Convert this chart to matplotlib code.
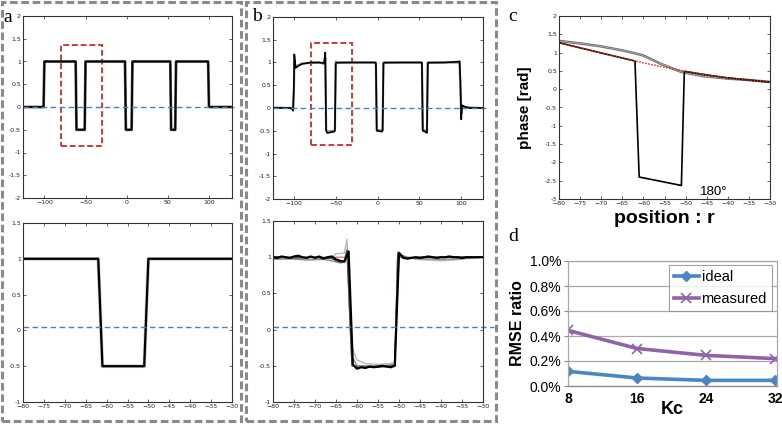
import matplotlib.pyplot as plt
from matplotlib.patches import Rectangle

W, H = 782, 424

# ideal pulse profile (panel a / red reference)
prof_x = [-128, -101, -100, -62, -61, -51, -50, -2, -1, 6, 7, 53, 54, 59, 60, 99, 100, 128]
prof_y = [0, 0, 1, 1, -0.5, -0.5, 1, 1, -0.5, -0.5, 1, 1, -0.5, -0.5, 1, 1, 0, 0]

# panel b top, measured traces
bt_x = [-126, -104, -102, -101, -100, -99.5, -98, -95, -90, -80, -70, -64, -62.5, -61.5, -60, -52, -51, -50,
        -49, -30, -3, -2, -1, 5, 6, 7, 8, 30, 52, 53, 54, 58, 59, 60, 61, 80, 97, 98, 99, 100, 101, 104, 110, 126]
bt_y = [0, 0, -0.03, -0.06, 0.5, 1.18, 0.88, 0.92, 0.97, 1.0, 1.0, 0.99, 1.22, -0.5, -0.55, -0.52, -0.5, 0.97,
        1.0, 1.0, 1.0, 0.98, -0.5, -0.52, -0.5, 0.98, 1.0, 1.0, 1.0, 0.99, -0.5, -0.53, -0.55, 0.98, 1.0, 1.0, 1.02, 1.03, 0.6, -0.25, 0.06, 0.03, 0.0, 0]
bt2_y = [0.01, 0.0, 0.0, -0.03, 0.4, 1.05, 0.9, 0.94, 0.98, 0.99, 1.0, 0.97, 1.1, -0.48, -0.52, -0.5, -0.48, 1.02,
         0.99, 1.0, 1.0, 1.0, -0.48, -0.5, -0.48, 1.0, 0.99, 1.0, 1.0, 1.0, -0.48, -0.5, -0.52, 1.0, 0.99, 1.0, 1.0, 1.0, 0.4, -0.12, 0.04, 0.02, 0.01, 0]

# panel b bottom, zoomed measured traces
bb_x = list(range(-80, -29))
bb_black = [1.00, 0.99, 1.01, 1.00, 0.99, 1.01, 1.02, 1.00, 0.99, 1.01, 0.99, 1.01, 0.98, 1.00, 1.01, 0.97, 0.95,
            0.94, 1.08, -0.48, -0.54, -0.52, -0.53, -0.51, -0.52, -0.51, -0.50, -0.51, -0.52, -0.50, 1.06, 0.99,
            0.98, 0.99, 1.00, 0.99, 1.00, 1.01, 1.00, 0.99, 1.00, 1.00, 1.01, 1.00, 1.00, 0.99, 1.00, 1.00, 1.00, 1.00, 1.00]
bb_g1_x = [-80, -77, -74, -71, -68, -66, -65, -64, -63, -62.4, -61.5, -61, -60, -58, -55, -52, -51, -50.3, -49, -46, -43, -40, -37, -34, -30]
bb_g1_y = [0.98, 0.97, 0.98, 0.97, 0.98, 0.99, 1.05, 1.05, 1.06, 1.25, -0.1, -0.27, -0.42, -0.47, -0.48, -0.47, -0.45, 1.08, 1.02, 0.97, 0.96, 0.95, 0.96, 0.98, 1.0]
bb_g2_x = [-80, -76, -72, -68, -66, -64, -63, -62.3, -61.3, -60, -57, -54, -51, -50.3, -49, -45, -40, -35, -30]
bb_g2_y = [0.97, 0.98, 0.96, 0.97, 0.95, 0.92, 0.93, 1.02, -0.35, -0.50, -0.51, -0.50, -0.48, 1.03, 0.99, 0.98, 0.97, 0.98, 1.0]
bb_g3_x = [-80, -75, -70, -66, -64, -63, -62.4, -61.2, -60, -55, -51, -50.3, -48, -44, -38, -30]
bb_g3_y = [1.01, 0.99, 1.0, 0.98, 0.93, 0.95, 1.10, -0.50, -0.52, -0.52, -0.50, 1.05, 0.99, 1.0, 1.0, 1.0]

# panel c, phase
c_x = [-80, -75, -70, -65, -62, -60, -55, -50, -45, -40, -35, -30]
c_ideal = [1.27, 1.13, 0.99, 0.85, 0.77, 0.72, 0.60, 0.49, 0.39, 0.31, 0.25, 0.19]
c_gray_x = [-80, -75, -70, -65, -62, -60, -56, -51, -46, -40, -35, -30]
c_gray = [1.32, 1.25, 1.17, 1.06, 0.98, 0.92, 0.70, 0.47, 0.36, 0.29, 0.25, 0.20]
c_black_x = [-80, -70, -62, -61, -51, -50.3, -45, -40, -35, -30]
c_black = [1.27, 0.99, 0.77, -2.40, -2.63, 0.49, 0.39, 0.31, 0.25, 0.19]

# panel d, RMSE ratio (%)
kc = [8, 16, 24, 32]
rmse_ideal = [0.117, 0.064, 0.045, 0.045]
rmse_measured = [0.445, 0.30, 0.245, 0.219]

blue_dash = '#4a80c0'
red_box = '#c83c3c'


def ax_px(x0, y0, x1, y1):
    return fig.add_axes([x0 / W, 1 - y1 / H, (x1 - x0) / W, (y1 - y0) / H])


def matlab_style(ax):
    ax.tick_params(direction='in', top=True, right=True, length=2.5, width=0.5, labelsize=4.5, pad=1.5,
                   colors='#222222')
    for s in ax.spines.values():
        s.set_linewidth(0.8)
        s.set_color('#333333')


def short(v):
    return ('%g' % v)


fig = plt.figure(figsize=(W / 100, H / 100), dpi=100)

# ---- panel a ----
ax = ax_px(23, 16, 232, 198)
ax.plot(prof_x, prof_y, color='#555555', lw=2.0)
ax.plot(prof_x, prof_y, color='black', lw=1.2)
ax.plot([-126, 130], [0, 0], ls=(0, (4, 2.5)), color=blue_dash, lw=1.0, clip_on=False)
ax.add_patch(Rectangle((-80, -0.85), 50, 2.22, fill=False, ec=red_box, lw=1.4, ls=(0, (3, 1.5)), clip_on=False))
ax.set_xlim(-126, 128)
ax.set_ylim(-2, 2)
ax.set_xticks([-100, -50, 0, 50, 100])
ax.set_yticks([-2, -1.5, -1, -0.5, 0, 0.5, 1, 1.5, 2])
ax.set_yticklabels([short(v) for v in ax.get_yticks()])
matlab_style(ax)

ax = ax_px(23, 223, 232, 402)
ax.plot(prof_x, prof_y, color='#d08070', lw=0.8)
ax.plot(prof_x, prof_y, color='#999999', lw=2.6, alpha=0.5)
ax.plot(prof_x, prof_y, color='black', lw=1.6)
ax.plot([-80, -30], [0.05, 0.05], ls=(0, (4, 2.5)), color=blue_dash, lw=1.0)
ax.set_xlim(-80, -30)
ax.set_ylim(-1, 1.5)
ax.set_xticks(range(-80, -29, 5))
ax.set_yticks([-1, -0.5, 0, 0.5, 1, 1.5])
ax.set_yticklabels([short(v) for v in ax.get_yticks()])
matlab_style(ax)

# ---- panel b ----
ax = ax_px(273, 17, 483, 199)
ax.plot(bt_x, bt2_y, color='#888888', lw=1.6)
ax.plot(bt_x, bt_y, color='black', lw=1.2)
ax.plot([-125, 129], [0, 0], ls=(0, (4, 2.5)), color=blue_dash, lw=1.0, clip_on=False)
ax.add_patch(Rectangle((-80, -0.81), 50, 2.23, fill=False, ec=red_box, lw=1.4, ls=(0, (3, 1.5)), clip_on=False))
ax.set_xlim(-125, 126)
ax.set_ylim(-2, 2)
ax.set_xticks([-100, -50, 0, 50, 100])
ax.set_yticks([-2, -1.5, -1, -0.5, 0, 0.5, 1, 1.5, 2])
ax.set_yticklabels([short(v) for v in ax.get_yticks()])
matlab_style(ax)

ax = ax_px(273, 221, 483, 402)
ax.plot(prof_x, prof_y, color='#d08070', lw=0.9)
ax.plot(bb_g1_x, bb_g1_y, color='#b8b8b8', lw=1.0)
ax.plot(bb_g2_x, bb_g2_y, color='#8a8a8a', lw=1.0)
ax.plot(bb_g3_x, bb_g3_y, color='#555555', lw=1.0)
ax.plot(bb_x, bb_black, color='black', lw=1.6)
ax.plot([-80, -27.5], [0.03, 0.03], ls=(0, (4, 2.5)), color=blue_dash, lw=1.0, clip_on=False)
ax.set_xlim(-80, -30)
ax.set_ylim(-1, 1.5)
ax.set_xticks(range(-80, -29, 5))
ax.set_yticks([-1, -0.5, 0, 0.5, 1, 1.5])
ax.set_yticklabels([short(v) for v in ax.get_yticks()])
matlab_style(ax)

# ---- panel c ----
ax = ax_px(559, 16, 770, 199)
ax.plot(c_gray_x, c_gray, color='#6a6a6a', lw=1.8)
ax.plot(c_gray_x, c_gray, color='#bbbbbb', lw=0.5)
ax.plot(c_black_x, c_black, color='black', lw=1.2)
ax.plot(c_x, c_ideal, color='#e03020', lw=1.1, ls=(0, (1, 1)))
ax.text(-46.5, -2.88, '180°', fontsize=9.5, family='Liberation Sans')
ax.set_xlim(-80, -30)
ax.set_ylim(-3, 2)
ax.set_xticks(range(-80, -29, 5))
ax.set_yticks([-3, -2.5, -2, -1.5, -1, -0.5, 0, 0.5, 1, 1.5, 2])
ax.set_yticklabels([short(v) for v in ax.get_yticks()])
matlab_style(ax)
ax.set_ylabel('phase [rad]', fontsize=11, fontweight='bold', family='Liberation Sans', labelpad=9)
ax.set_xlabel('position : r', fontsize=14, fontweight='bold', family='Liberation Sans', labelpad=3)

# ---- panel d ----
ax = ax_px(568, 261, 777, 386)
ax.plot(kc, rmse_ideal, color='#4a86c5', lw=2.6, marker='D', ms=5, label='ideal')
ax.plot(kc, rmse_measured, color='#8e63a8', lw=2.6, marker='x', ms=7, mew=1.2, label='measured')
ax.set_xlim(8, 32.2)
ax.set_ylim(0, 1.0)
ax.set_yticks([0, 0.2, 0.4, 0.6, 0.8, 1.0])
ax.set_yticklabels(['%.1f%%' % v for v in [0, 0.2, 0.4, 0.6, 0.8, 1.0]])
ax.set_xticks(kc)
ax.grid(axis='y', color='#a8a8a8', lw=0.9)
ax.set_axisbelow(True)
for s in ax.spines.values():
    s.set_color('#a8a8a8')
    s.set_linewidth(0.9)
ax.spines['bottom'].set_color('#888888')
ax.tick_params(axis='y', length=3, color='#888888', labelsize=10, pad=2)
ax.tick_params(axis='x', length=0, labelsize=10, pad=4)
for t in ax.get_xticklabels() + ax.get_yticklabels():
    t.set_family('Liberation Sans')
for t in ax.get_xticklabels():
    t.set_fontweight('bold')
ax.set_ylabel('RMSE ratio', fontsize=11.5, fontweight='bold', family='Liberation Sans', labelpad=3)
ax.set_xlabel('Kc', fontsize=13, fontweight='bold', family='Liberation Sans', labelpad=-3)
leg = ax.legend(loc='upper right', bbox_to_anchor=(0.976, 0.968), borderaxespad=0, fancybox=False,
                prop={'family': 'Liberation Sans', 'size': 10.5}, handlelength=1.7, handletextpad=0.2,
                labelspacing=0.55, borderpad=0.35)
leg.get_frame().set_edgecolor('#888888')
leg.get_frame().set_linewidth(0.8)

# ---- outer dashed frames and panel letters ----
for x0, y0, x1, y1 in [(2, 2, 241, 421), (246, 2, 496, 421)]:
    fig.add_artist(Rectangle((x0 / W, 1 - y1 / H), (x1 - x0) / W, (y1 - y0) / H, transform=fig.transFigure,
                             fill=False, ec='#8a8a8a', lw=2.2, ls=(0, (2.5, 1.2))))

for lab, x, y in [('a', 3, 22), ('b', 252, 21), ('c', 508, 21), ('d', 508, 241)]:
    fig.text(x / W, 1 - y / H, lab, fontsize=14, family='Liberation Serif')

fig.savefig('out.png', dpi=100)
